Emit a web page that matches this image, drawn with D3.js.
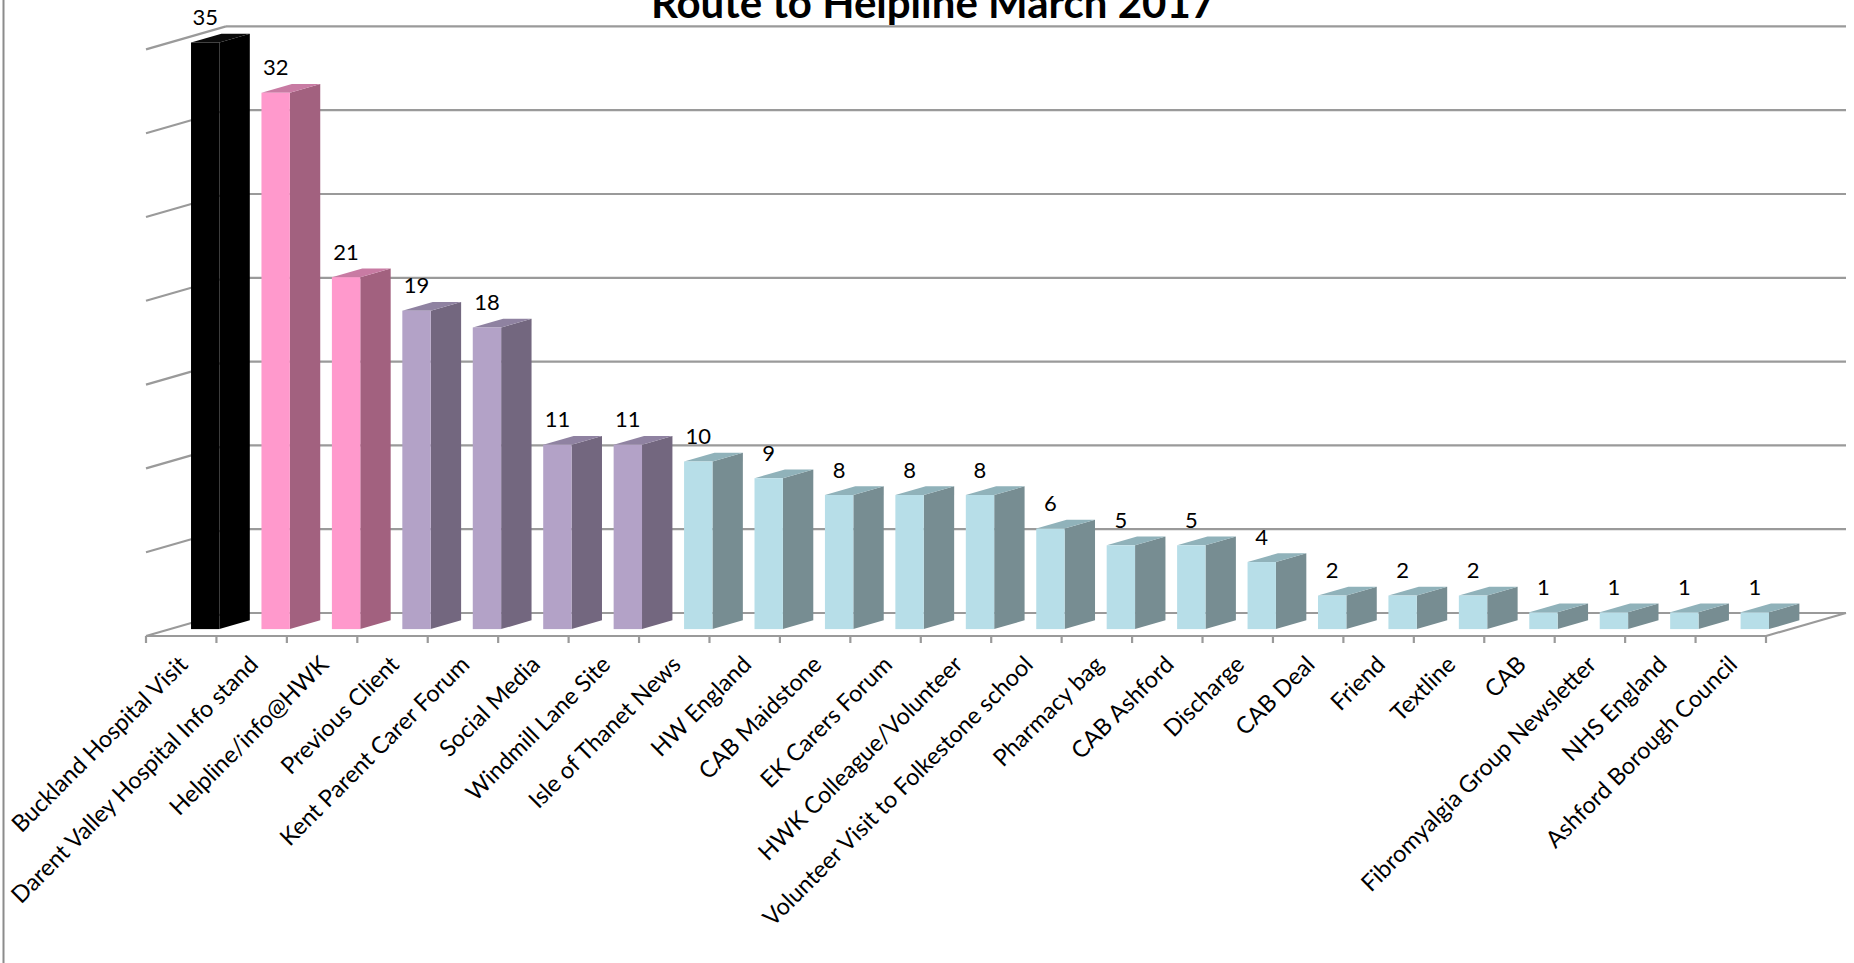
<!DOCTYPE html>
<html>
<head>
<meta charset="utf-8">
<script src="https://cdnjs.cloudflare.com/ajax/libs/d3/7.8.5/d3.min.js"></script>
<style>
  html, body { margin: 0; padding: 0; background: #fff; overflow: hidden; }
  svg { display: block; }
  text { font-family: Lato, "Open Sans", sans-serif; fill: #000; }
</style>
</head>
<body>
<svg id="chart" width="1854" height="963"></svg>
<script>
const title = "Route to Helpline March 2017";
const categories = [
  "Buckland Hospital Visit",
  "Darent Valley Hospital Info stand",
  "Helpline/info@HWK",
  "Previous Client",
  "Kent Parent Carer Forum",
  "Social Media",
  "Windmill Lane Site",
  "Isle of Thanet News",
  "HW England",
  "CAB Maidstone",
  "EK Carers Forum",
  "HWK Colleague/Volunteer",
  "Volunteer Visit to Folkestone school",
  "Pharmacy bag",
  "CAB Ashford",
  "Discharge",
  "CAB Deal",
  "Friend",
  "Textline",
  "CAB",
  "Fibromyalgia Group Newsletter",
  "NHS England",
  "Ashford Borough Council"
];
const values = [35, 32, 21, 19, 18, 11, 11, 10, 9, 8, 8, 8, 6, 5, 5, 4, 2, 2, 2, 1, 1, 1, 1];
const colorGroups = ["black", "pink", "pink", "purple", "purple", "purple", "purple",
  "blue", "blue", "blue", "blue", "blue", "blue", "blue", "blue", "blue",
  "blue", "blue", "blue", "blue", "blue", "blue", "blue"];
const gridTicks = [0, 5, 10, 15, 20, 25, 30, 35];

// styling / layout (not data)
const palette = {
  black:  { front: "#000000", side: "#000000", top: "#0a0a0a" },
  pink:   { front: "#FF99CC", side: "#A2617F", top: "#C87BA3" },
  purple: { front: "#B3A2C7", side: "#73677F", top: "#8F82A1" },
  blue:   { front: "#B7DEE8", side: "#778D92", top: "#90B2BA" }
};
const W = 1854, H = 963;
const frontLeft = 146, frontRight = 1766, floorFrontY = 636;
const depth = { dx: 80, dy: -23 };          // full floor depth vector
const barDepth0 = 0.30, barDepth1 = 0.68;   // fraction of floor depth occupied by bars
const plotHeight = 586.6;
const gridColor = "#9a9a9a";

const svg = d3.select("#chart");

const x = d3.scaleBand().domain(categories).range([frontLeft, frontRight]).paddingInner(0).paddingOuter(0);
const h = d3.scaleLinear().domain([0, 35]).range([0, plotHeight]);

const backY0 = floorFrontY + depth.dy;      // back wall base
const backX0 = frontLeft + depth.dx;
const backX1 = frontRight + depth.dx;

// left border of the picture
svg.append("line").attr("x1", 3.5).attr("x2", 3.5).attr("y1", 0).attr("y2", H)
  .attr("stroke", "#8c8c8c").attr("stroke-width", 2);

// back wall gridlines
const grid = svg.append("g");
grid.selectAll("line.g").data(gridTicks).join("line")
  .attr("x1", backX0).attr("x2", backX1)
  .attr("y1", d => backY0 - h(d)).attr("y2", d => backY0 - h(d))
  .attr("stroke", gridColor).attr("stroke-width", 2.2);
// left wall gridlines (slanted)
grid.selectAll("line.s").data(gridTicks).join("line")
  .attr("x1", frontLeft).attr("y1", d => floorFrontY - h(d))
  .attr("x2", backX0).attr("y2", d => backY0 - h(d))
  .attr("stroke", gridColor).attr("stroke-width", 2.2);
// floor right edge
grid.append("line")
  .attr("x1", frontRight).attr("y1", floorFrontY)
  .attr("x2", backX1).attr("y2", backY0)
  .attr("stroke", gridColor).attr("stroke-width", 2.2);
// front axis line
grid.append("line")
  .attr("x1", frontLeft).attr("x2", frontRight)
  .attr("y1", floorFrontY).attr("y2", floorFrontY)
  .attr("stroke", gridColor).attr("stroke-width", 2.2);
// ticks
const tickXs = categories.map(c => x(c)).concat([frontRight]);
grid.selectAll("line.t").data(tickXs).join("line")
  .attr("x1", d => d).attr("x2", d => d)
  .attr("y1", floorFrontY).attr("y2", floorFrontY + 7)
  .attr("stroke", gridColor).attr("stroke-width", 2.2);

// bars
const bw = x.bandwidth() * 0.403;
const fdx = depth.dx * barDepth0, fdy = depth.dy * barDepth0;
const sdx = depth.dx * (barDepth1 - barDepth0), sdy = depth.dy * (barDepth1 - barDepth0);

const bars = svg.append("g").selectAll("g").data(categories).join("g");
bars.each(function(c, i) {
  const g = d3.select(this);
  const v = values[i];
  const col = palette[colorGroups[i]];
  const x0 = x(c) + x.bandwidth() / 2 + fdx - bw / 2;
  const x1 = x0 + bw;
  const yb = floorFrontY + fdy;
  const yt = yb - h(v);
  // side face
  g.append("path")
    .attr("d", `M${x1},${yb} L${x1 + sdx},${yb + sdy} L${x1 + sdx},${yt + sdy} L${x1},${yt} Z`)
    .attr("fill", col.side);
  // top face
  g.append("path")
    .attr("d", `M${x0},${yt} L${x1},${yt} L${x1 + sdx},${yt + sdy} L${x0 + sdx},${yt + sdy} Z`)
    .attr("fill", col.top);
  // front face
  g.append("rect").attr("x", x0).attr("y", yt).attr("width", bw).attr("height", h(v))
    .attr("fill", col.front);
  // value label
  g.append("text")
    .attr("x", x0 + bw / 2).attr("y", yt - 17.5)
    .attr("text-anchor", "middle")
    .attr("font-size", 22)
    .text(v);
});

// category labels
svg.append("g").selectAll("text").data(categories).join("text")
  .attr("transform", d => `translate(${x(d) + x.bandwidth() / 2 + 8},${666}) rotate(-45)`)
  .attr("text-anchor", "end")
  .attr("font-size", 23.5)
  .text(d => d);

// title (partly cut off at the top like the reference)
svg.append("text")
  .attr("x", 933).attr("y", 18)
  .attr("text-anchor", "middle")
  .attr("font-size", 42)
  .attr("font-weight", "bold")
  .text(title);
</script>
</body>
</html>
